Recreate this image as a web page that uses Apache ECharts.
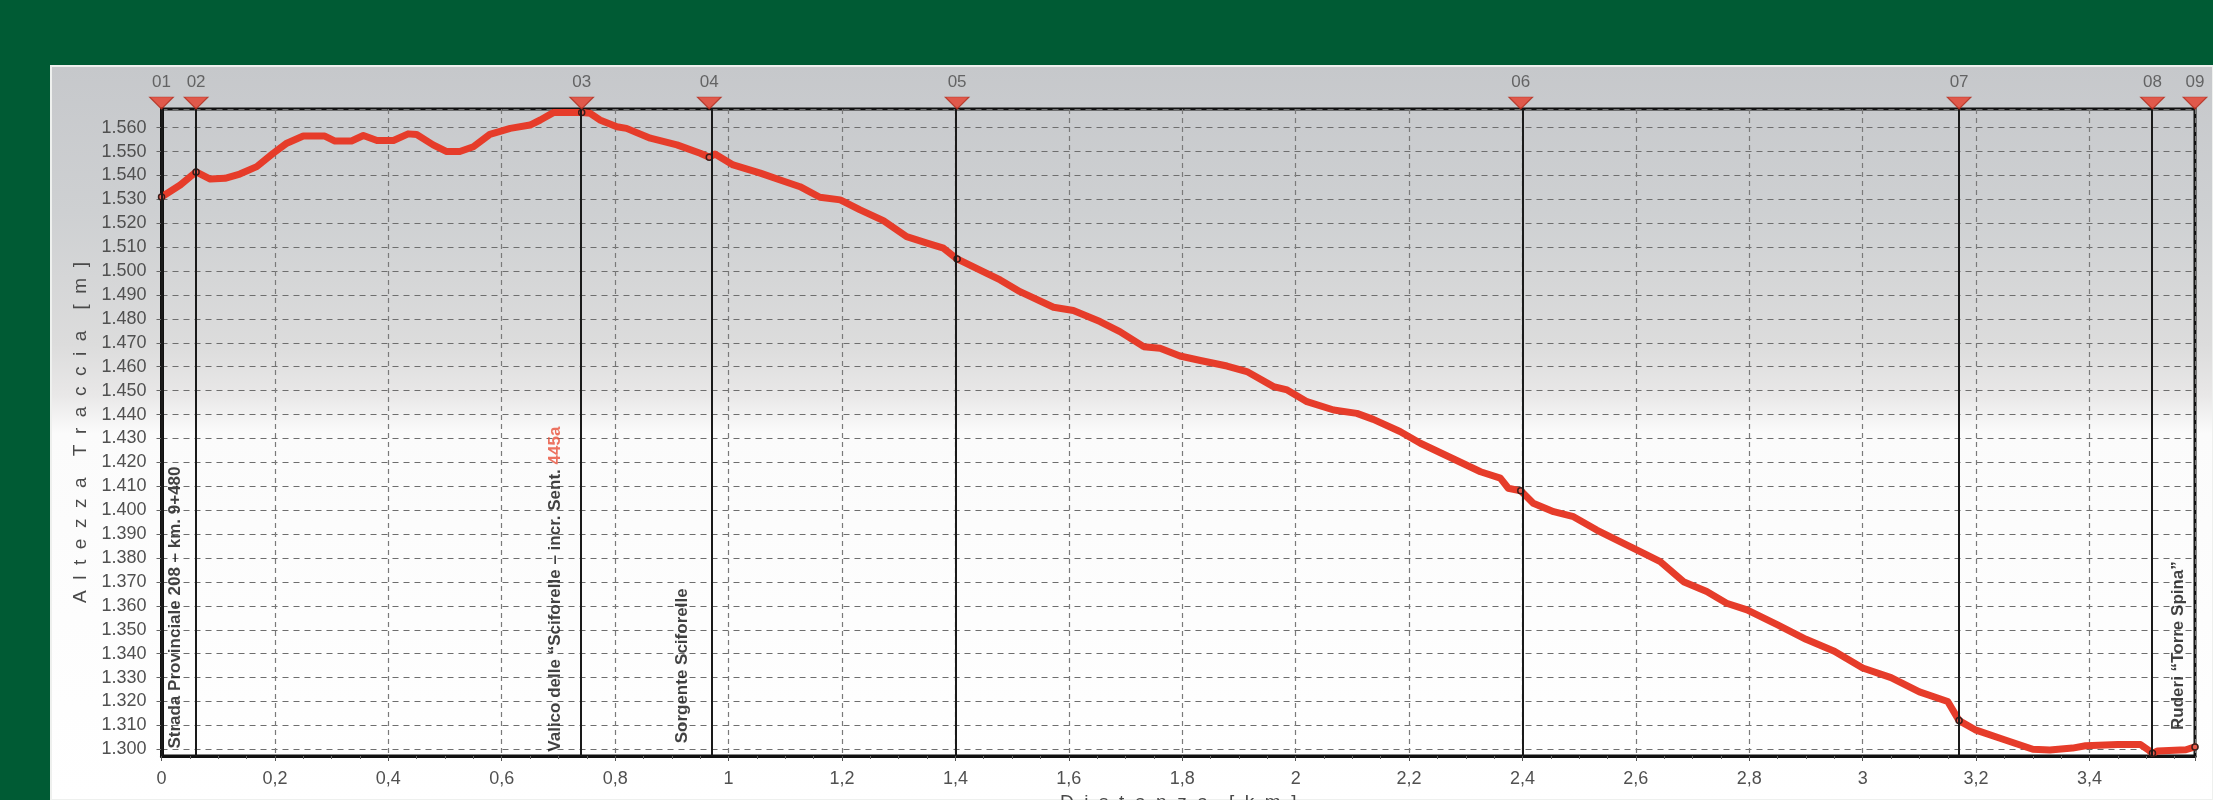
<!DOCTYPE html>
<html>
<head>
<meta charset="utf-8">
<script src="https://cdn.jsdelivr.net/npm/echarts@6/dist/echarts.min.js"></script>
<style>
html,body{margin:0;padding:0;background:#005b34;}
#chart{width:2213px;height:800px;}
</style>
</head>
<body>
<div id="chart"></div>
<script>
// ---- data ----
const distanceKm = [0.000,0.033,0.061,0.086,0.112,0.138,0.168,0.197,0.221,0.250,0.288,0.306,0.335,0.356,0.380,0.409,0.435,0.450,0.479,0.503,0.526,0.550,0.579,0.615,0.650,0.668,0.691,0.741,0.756,0.773,0.803,0.820,0.862,0.909,0.950,0.966,0.976,1.008,1.056,1.091,1.126,1.161,1.197,1.232,1.273,1.314,1.350,1.379,1.403,1.449,1.479,1.514,1.573,1.608,1.655,1.690,1.732,1.761,1.796,1.832,1.879,1.914,1.961,1.985,2.020,2.067,2.108,2.137,2.184,2.220,2.260,2.300,2.326,2.361,2.375,2.397,2.419,2.455,2.490,2.531,2.572,2.613,2.643,2.684,2.725,2.760,2.796,2.850,2.900,2.950,3.000,3.050,3.100,3.150,3.170,3.200,3.250,3.300,3.330,3.370,3.393,3.450,3.490,3.505,3.511,3.520,3.570,3.586];
const elevationM = [1531,1536,1541.5,1538.5,1538.8,1540.6,1543.7,1549.3,1553.5,1556.5,1556.5,1554.4,1554.4,1556.7,1554.6,1554.6,1557.4,1557.1,1552.8,1550,1550,1552,1557.2,1559.7,1561.1,1563.2,1566.3,1566.3,1566,1563.2,1560.4,1559.7,1555.6,1552.8,1549.3,1547.6,1549,1544.4,1541,1538.1,1535.3,1530.9,1529.8,1525.6,1521.1,1514.4,1511.7,1509.6,1505.1,1499.8,1496.3,1491.4,1484.9,1483.5,1478.9,1474.7,1468.4,1467.7,1464.5,1462.6,1460.3,1458,1451.7,1450.3,1445.4,1441.9,1440.5,1438,1432.9,1428,1423.5,1419,1416.1,1413.4,1409.2,1408.1,1402.9,1399.4,1397.3,1391.7,1386.9,1382,1378.5,1370.1,1366,1361.1,1358.3,1352,1346,1341,1334,1330,1324,1320,1312,1308,1304,1300,1299.7,1300.5,1301.5,1302,1302,1299.5,1298.3,1299.3,1299.8,1301];

const waypointNames = ['01','02','03','04','05','06','07','08','09'];
const waypointKm    = [0, 0.061, 0.741, 0.966, 1.403, 2.397, 3.170, 3.511, 3.586];
const waypointElev  = [1531, 1541.5, 1566.3, 1547.6, 1505.1, 1408.1, 1312, 1298.3, 1301];

const xTickStepKm = 0.2;
const xMaxKm = 3.586;
const yMinM = 1297.2;
const yMaxM = 1567.8;

const annotationTexts = [
  '{t|Strada Provinciale 208 – km. 9+480}',
  '{t|Valico delle “Sciforelle – incr. Sent. }{r|445a}',
  '{t|Sorgente Sciforelle}',
  '{t|Ruderi “Torre Spina”}'
];
const annotationKm   = [0.0252, 0.694, 0.919, 3.557];
const annotationElev = [1300.3, 1299.0, 1302.5, 1308.1];

// ---- chart ----
const chart = echarts.init(document.getElementById('chart'), null, {renderer:'canvas'});
const FONT = 'Liberation Sans, Arial, sans-serif';
const NARROW = 'Liberation Sans Narrow, Arial Narrow, Liberation Sans, sans-serif';

const option = {
  backgroundColor: '#005b34',
  animation: false,
  graphic: [{
    type: 'rect', z: -10, silent: true,
    shape: {x: 51, y: 66, width: 2162, height: 734},
    style: {
      fill: new echarts.graphic.LinearGradient(0,0,0,1,[
        {offset:0, color:'#c6c8cb'},
        {offset:0.2, color:'#ced0d2'},
        {offset:0.38, color:'#dcdcdc'},
        {offset:0.45, color:'#e9e8e8'},
        {offset:0.5, color:'#fbfbfb'},
        {offset:1, color:'#ffffff'}
      ]),
      stroke: '#eef0ee', lineWidth: 2
    }
  }],
  grid: {
    left: 161.5, right: 18, top: 109, bottom: 44,
    show: true, borderColor: '#111', borderWidth: 3, backgroundColor: 'transparent',
    containLabel: false, outerBoundsMode: 'none'
  },
  xAxis: {
    type: 'value', min: 0, max: xMaxKm, interval: xTickStepKm,
    name: 'D  i  s  t  a  n  z  a    [  k  m  ]',
    nameLocation: 'middle', nameGap: 35,
    nameTextStyle: {fontFamily: FONT, fontSize: 19, color: '#4a4a4a'},
    axisLine: {show: true, lineStyle: {color: '#111', width: 3}},
    axisTick: {show: true, length: 5, lineStyle: {color: '#555', width: 1}},
    minorTick: {show: true, splitNumber: 4, length: 3, lineStyle: {color: '#666'}},
    splitLine: {show: true, lineStyle: {color: '#7a7a7a', width: 1.2, type: [5,4]}},
    axisLabel: {
      showMaxLabel: false, margin: 14, fontFamily: FONT, fontSize: 18, color: '#505050',
      formatter: v => String(+v.toFixed(1)).replace('.', ',')
    }
  },
  yAxis: {
    type: 'value', min: yMinM, max: yMaxM, splitNumber: 27, minInterval: 10, maxInterval: 10,
    name: 'A  l  t  e  z  z  a    T  r  a  c  c  i  a    [  m  ]',
    nameLocation: 'middle', nameGap: 70, nameRotate: 90,
    nameTextStyle: {fontFamily: FONT, fontSize: 19, color: '#4a4a4a'},
    axisLine: {show: true, lineStyle: {color: '#111', width: 4}},
    axisTick: {show: true, length: 5, lineStyle: {color: '#666'}},
    splitLine: {show: true, lineStyle: {color: '#6e6e6e', width: 1.2, type: [6,5]}},
    axisLabel: {
      showMinLabel: false, showMaxLabel: false, margin: 15,
      fontFamily: FONT, fontSize: 18, color: '#505050',
      formatter: v => { const s = String(Math.round(v)); return s.slice(0,1) + '.' + s.slice(1); }
    }
  },
  series: [
    {
      name: 'waypoint lines', type: 'line', data: [], z: 1, silent: true,
      markLine: {
        silent: true, symbol: 'none', animation: false,
        label: {show: false},
        lineStyle: {color: '#1a1a1a', width: 2, type: 'solid'},
        data: waypointKm.map(k => ({xAxis: k}))
      }
    },
    {
      name: 'profilo', type: 'line', z: 3,
      data: distanceKm.map((d, i) => [d, elevationM[i]]),
      showSymbol: false, smooth: false,
      lineStyle: {color: '#e63c2a', width: 7, cap: 'round', join: 'round'}
    },
    {
      name: 'waypoint points', type: 'scatter', z: 4, silent: true,
      data: waypointKm.map((k, i) => [k, waypointElev[i]]),
      symbol: 'circle', symbolSize: 6,
      itemStyle: {color: 'rgba(255,255,255,0.2)', borderColor: '#111', borderWidth: 1.5}
    },
    {
      name: 'waypoint markers', type: 'scatter', z: 5, silent: true, clip: false,
      data: waypointKm.map((k, i) => ({value: [k, yMaxM], name: waypointNames[i]})),
      symbol: 'triangle', symbolRotate: 180, symbolSize: [24, 12], symbolOffset: [0, -6],
      itemStyle: {color: '#e63c2a', borderColor: '#b02a1c', borderWidth: 1},
      label: {show: true, position: 'top', distance: 6, formatter: '{b}',
              fontFamily: FONT, fontSize: 17, color: '#4a4a4a'}
    },
    {
      name: 'annotations', type: 'scatter', z: 6, silent: true,
      data: annotationKm.map((k, i) => ({value: [k, annotationElev[i]], name: annotationTexts[i]})),
      symbolSize: 1, itemStyle: {color: 'rgba(0,0,0,0)'},
      label: {
        show: true, position: 'inside', rotate: 90, align: 'left', verticalAlign: 'middle',
        formatter: p => p.name,
        rich: {
          t: {fontFamily: NARROW, fontWeight: 'bold', fontSize: 17, color: '#111'},
          r: {fontFamily: NARROW, fontWeight: 'bold', fontSize: 17, color: '#e8503a'}
        }
      }
    }
  ]
};
chart.setOption(option);
</script>
</body>
</html>
